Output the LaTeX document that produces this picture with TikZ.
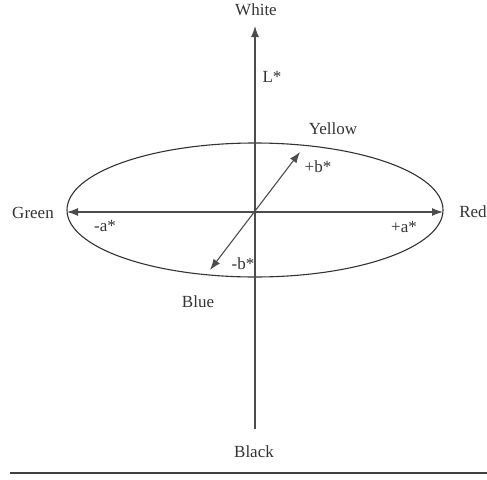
\documentclass[tikz,border=0pt]{standalone}
\usepackage{fontspec}
\setmainfont{Liberation Serif}
\usetikzlibrary{arrows.meta}
\begin{document}
\begin{tikzpicture}[x=1pt,y=-1pt,
  lbl/.style={text=black!80,font=\fontsize{17}{20}\selectfont,inner sep=0pt,anchor=center},
  axis/.style={draw=black!70,line width=1.1pt},
  tip/.style={-{Latex[length=11pt,width=8pt]}},
  dtip/.style={{Latex[length=11pt,width=8pt]}-{Latex[length=11pt,width=8pt]}}]
\useasboundingbox (0,0) rectangle (487,479);
% key points
\coordinate (top) at (255,26);
\coordinate (bot) at (255,429);
\coordinate (left) at (67,212);
\coordinate (right) at (443,212);
\coordinate (yb) at (300,152);
\coordinate (bb) at (210,270);
\coordinate (c) at (255,210);
\coordinate (rl) at (10,473);
\coordinate (rr) at (487,473);
% ellipse
\draw[draw=black!80,line width=1.1pt] (c) ellipse [x radius=188, y radius=67];
% axes
\draw[axis,tip] (bot) -- (top);
\draw[axis,dtip] (left) -- (right);
\draw[axis,dtip] (bb) -- (yb);
% bottom rule
\draw[draw=black!75,line width=2.5pt] (rl) -- (rr);
% labels
\node[lbl] (white) at (256,10) {White};
\node[lbl] (lstar) at (272,77) {L*};
\node[lbl] (yellow) at (333,129) {Yellow};
\node[lbl] (pb) at (318,167) {+b*};
\node[lbl] (green) at (33,213) {Green};
\node[lbl] (ma) at (105,226) {-a*};
\node[lbl] (pa) at (404,227) {+a*};
\node[lbl] (red) at (473,212) {Red};
\node[lbl] (mb) at (243,264) {-b*};
\node[lbl] (blue) at (198,302) {Blue};
\node[lbl] (black) at (254,452) {Black};
\end{tikzpicture}
\end{document}
